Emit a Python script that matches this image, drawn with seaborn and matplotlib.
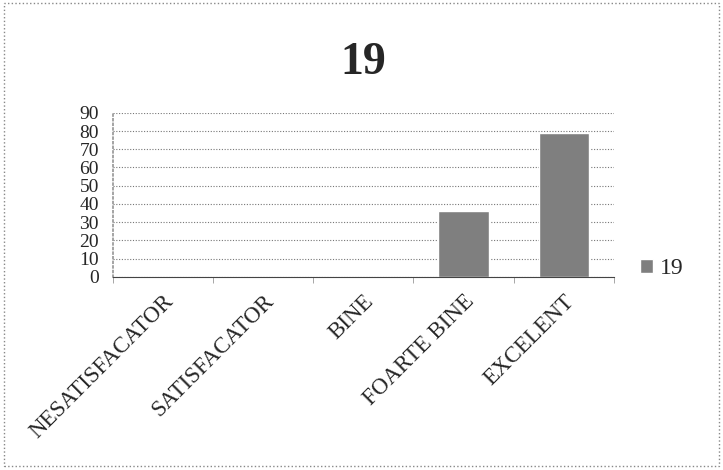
import matplotlib
matplotlib.use("Agg")
import matplotlib.pyplot as plt
import seaborn as sns
import pandas as pd
from matplotlib.patches import Rectangle

# Data
categories = ["NESATISFACATOR", "SATISFACATOR", "BINE", "FOARTE BINE", "EXCELENT"]
values = [0, 0, 0, 36, 79]
series_name = "19"
y_ticks = [0, 10, 20, 30, 40, 50, 60, 70, 80, 90]

df = pd.DataFrame({"cat": categories, "val": values, "serie": series_name})

sns.set_theme(style="white")
plt.rcParams["font.family"] = ["Liberation Serif", "DejaVu Serif"]

fig = plt.figure(figsize=(7.23, 4.70), dpi=100)
ax = fig.add_axes([0.156, 0.411, 0.693, 0.349])

bar_gray = "#7f7f7f"
sns.barplot(data=df, x="cat", y="val", hue="serie", palette=[bar_gray],
            width=0.5, ax=ax, legend=True)

ax.set_ylim(0, 90)
ax.set_xlim(-0.5, len(categories) - 0.5)
ax.set_yticks(y_ticks)
ax.set_yticklabels([str(t) for t in y_ticks], fontsize=14)
ax.yaxis.grid(True, color="#777777", linestyle=(0, (1, 1.5)), linewidth=0.8)
ax.set_axisbelow(True)
ax.set_xlabel("")
ax.set_ylabel("")

ax.set_xticks(range(len(categories)))
ax.set_xticklabels(categories, rotation=45, ha="right", rotation_mode="anchor",
                   fontsize=16.5)
ax.tick_params(axis="x", length=0, pad=10)
ax.tick_params(axis="y", length=0, pad=10)

# small boundary ticks between categories
ax.set_xticks([i - 0.5 for i in range(len(categories) + 1)], minor=True)
ax.tick_params(axis="x", which="minor", length=4, color="#999999", width=0.6,
               bottom=True)

for side in ["top", "right"]:
    ax.spines[side].set_visible(False)
ax.spines["left"].set_color("#999999")
ax.spines["left"].set_linestyle(":")
ax.spines["bottom"].set_color("#444444")
ax.spines["bottom"].set_linewidth(0.8)

ax.set_title("19", fontsize=33, fontweight="bold", pad=28)

leg = ax.legend(loc="center left", bbox_to_anchor=(1.01, 0.05), frameon=False,
                fontsize=17, handlelength=0.55, handleheight=0.55, handletextpad=0.3)

fig.patches.append(Rectangle((0.006, 0.008), 0.988, 0.985, transform=fig.transFigure,
                             fill=False, edgecolor="#888888", linestyle=":",
                             linewidth=1.0))

fig.savefig("out.png", dpi=100)
